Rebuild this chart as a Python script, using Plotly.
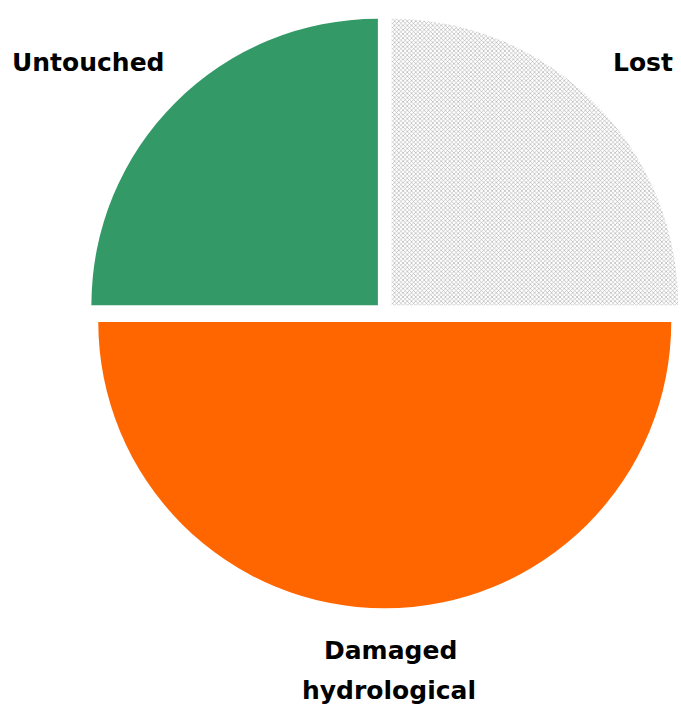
import plotly.graph_objects as go

labels = ["Lost", "Damaged hydrological", "Untouched"]
values = [25, 50, 25]
colors = ["#ffffff", "#FF6600", "#339966"]
pulls = [0.034, 0.034, 0.034]

W, H = 681, 707

fig = go.Figure(go.Pie(
    labels=labels,
    values=values,
    sort=False,
    direction="clockwise",
    rotation=0,
    pull=pulls,
    textinfo="none",
    hoverinfo="label+percent",
    marker=dict(
        colors=colors,
        line=dict(width=0),
        pattern=dict(
            shape=["x", "", ""],
            fgcolor="#a8a8a8",
            bgcolor="#ffffff",
            size=3,
            solidity=0.35,
        ),
    ),
    domain=dict(x=[0.13, 1.0], y=[0.135, 0.982]),
    showlegend=False,
))

font = dict(family="DejaVu Sans, Verdana, sans-serif", size=25, color="#000000")

ann = [
    ("<b>Untouched</b>", 89, 62),
    ("<b>Lost</b>", 643, 62),
    ("<b>Damaged</b>", 390, 650),
    ("<b>hydrological</b>", 389, 690),
]
fig.update_layout(
    width=W, height=H,
    margin=dict(l=0, r=0, t=0, b=0),
    paper_bgcolor="#ffffff",
    plot_bgcolor="#ffffff",
    annotations=[
        dict(text=t, x=x / W, y=1 - y / H, xref="paper", yref="paper",
             showarrow=False, font=font, xanchor="center", yanchor="middle")
        for t, x, y in ann
    ],
)

fig.write_html("out.html")
